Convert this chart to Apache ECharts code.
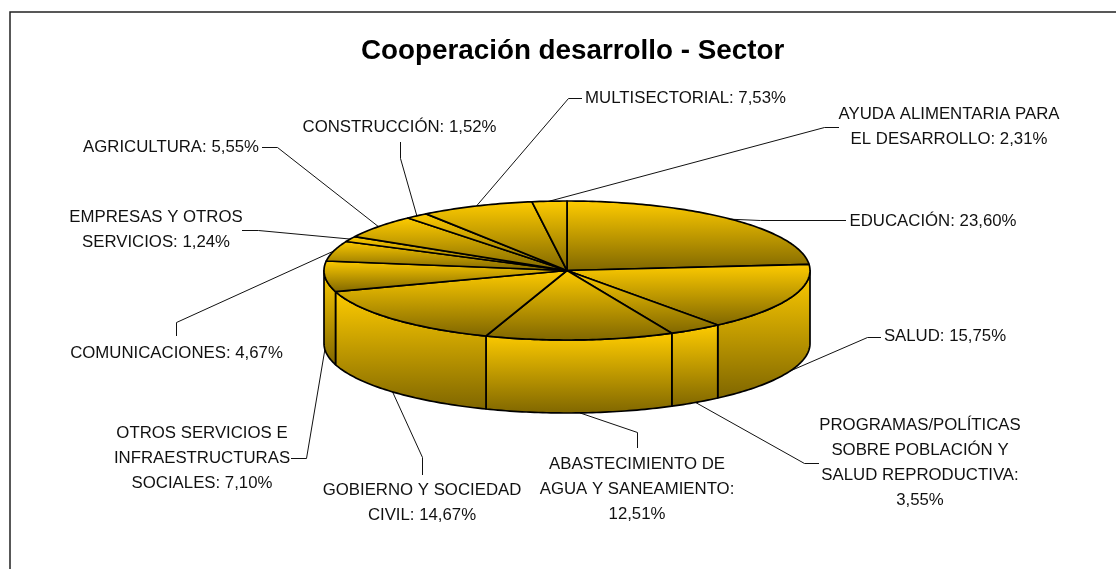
<!DOCTYPE html>
<html lang="es">
<head>
<meta charset="UTF-8" />
<title>Cooperación desarrollo - Sector</title>
<script src="https://cdn.jsdelivr.net/npm/echarts@6/dist/echarts.min.js"></script>
<style type="text/css">
html,body{margin:0;padding:0;background:#fff;}
#main{width:1116px;height:569px;}
</style>
</head>
<body>
<div id="main"></div>
<script type="text/javascript">
var chartTitle = 'Cooperación desarrollo - Sector';
var categories = [
	'EDUCACIÓN',
	'SALUD',
	'PROGRAMAS/POLÍTICAS\nSOBRE POBLACIÓN Y\nSALUD REPRODUCTIVA',
	'ABASTECIMIENTO DE\nAGUA Y SANEAMIENTO',
	'GOBIERNO Y SOCIEDAD\nCIVIL',
	'OTROS SERVICIOS E\nINFRAESTRUCTURAS\nSOCIALES',
	'COMUNICACIONES',
	'EMPRESAS Y OTROS\nSERVICIOS',
	'AGRICULTURA',
	'CONSTRUCCIÓN',
	'MULTISECTORIAL',
	'AYUDA ALIMENTARIA PARA\nEL DESARROLLO'
];
var shares = [23.60, 15.75, 3.55, 12.51, 14.67, 7.10, 4.67, 1.24, 5.55, 1.52, 7.53, 2.31];

// layout of the pie
var CX = 567, CY = 270.5, RX = 243, RY = 69.5, DEPTH = 73;
// leader line elbow + end, label centre, value on its own line or not
var labelLayout = [
	{elbow:[760.5,220.5], end:[846,220.5], at:[933,221]},
	{elbow:[867.5,337.5], end:[881,337.5], at:[945,336]},
	{elbow:[804.5,463.5], end:[819,463.5], at:[920,462.5], breakValue:true},
	{elbow:[637.5,432.5], end:[637.5,448], at:[637,489], breakValue:true},
	{elbow:[422.5,457.5], end:[422.5,475], at:[422,503]},
	{elbow:[306.5,458.5], end:[291,458.5], at:[202,458.5]},
	{elbow:[176.5,322.5], end:[176.5,336], at:[176.5,353]},
	{elbow:[258.5,230.5], end:[242,230.5], at:[156,230]},
	{elbow:[277.5,147.5], end:[262,147.5], at:[171,147]},
	{elbow:[400.5,158.5], end:[400.5,142], at:[399.5,127]},
	{elbow:[568.5,98.5], end:[582,98.5], at:[685.5,98]},
	{elbow:[824.5,127.5], end:[839,127.5], at:[949,126.5]}
];

var total = 0;
for(var i=0;i<shares.length;i++){
	total = total + shares[i];
}
// angles in degrees, clockwise from the top of the pie
var startAngle = [];
var run = 0;
for(var i=0;i<shares.length;i++){
	startAngle.push(run/total*360);
	run = run + shares[i];
}
function endAngleOf(i){
	return startAngle[i] + shares[i]/total*360;
}
function rim(deg, drop){
	var t = deg*Math.PI/180;
	return [CX + Math.sin(t)*RX, CY - Math.cos(t)*RY + (drop||0)];
}
function arc(from, to, drop){
	var pts = [];
	var n = Math.max(2, Math.ceil(Math.abs(to-from)));
	for(var k=0;k<=n;k++){
		pts.push(rim(from+(to-from)*k/n, drop));
	}
	return pts;
}
function gold(){
	return new echarts.graphic.LinearGradient(0,0,0,1,[
		{offset:0,color:'#ffcc00'},
		{offset:1,color:'#7f6600'}
	]);
}
var edge = {stroke:'#000',lineWidth:1.7,lineJoin:'round'};

function renderWall(params, api){
	var i = params.dataIndex;
	var from = Math.max(startAngle[i],90);
	var to = Math.min(endAngleOf(i),270);
	if(to <= from){
		return null;
	}
	var pts = arc(from,to,0).concat(arc(to,from,DEPTH));
	return {type:'polygon',shape:{points:pts},style:{fill:gold(),stroke:edge.stroke,lineWidth:edge.lineWidth,lineJoin:edge.lineJoin}};
}
function renderTop(params, api){
	var i = params.dataIndex;
	var pts = [[CX,CY]].concat(arc(startAngle[i],endAngleOf(i),0));
	return {type:'polygon',shape:{points:pts},style:{fill:gold(),stroke:edge.stroke,lineWidth:edge.lineWidth,lineJoin:edge.lineJoin}};
}
function labelText(i){
	var num = shares[i].toFixed(2).replace('.',',') + '%';
	return categories[i] + (labelLayout[i].breakValue ? ':\n' : ': ') + num;
}
function renderLabel(params, api){
	var i = params.dataIndex;
	var l = labelLayout[i];
	var mid = (startAngle[i]+endAngleOf(i))/2;
	var anchor = rim(mid, (mid>90 && mid<270) ? DEPTH : 0);
	return {
		type:'group',
		children:[
			{type:'polyline',shape:{points:[anchor,l.elbow,l.end]},style:{fill:null,stroke:'#111',lineWidth:1}},
			{type:'text',style:{
				text:labelText(i),x:l.at[0],y:l.at[1],align:'center',verticalAlign:'middle',
				fontFamily:'"Liberation Sans"',fontSize:16.8,lineHeight:25,fill:'#111'
			}}
		]
	};
}

var seriesData = shares.map(function(v,i){
	return {name:categories[i],value:[v]};
});
var myChart = echarts.init(document.getElementById('main'),null,{renderer:'canvas'});
myChart.setOption({
	animation:false,
	backgroundColor:'#fff',
	title:{
		text:chartTitle,
		left:361,
		top:37,
		padding:0,
		textStyle:{fontFamily:'"Liberation Sans"',fontSize:27.8,fontWeight:'bold',color:'#000'}
	},
	graphic:[
		// frame of the chart, its right and bottom sides are outside the picture
		{type:'rect',silent:true,shape:{x:10,y:12,width:1300,height:800},style:{fill:null,stroke:'#222',lineWidth:1.5}}
	],
	series:[
		{type:'custom',coordinateSystem:'none',silent:true,z:2,renderItem:renderLabel,data:seriesData},
		{type:'custom',coordinateSystem:'none',silent:true,z:3,renderItem:renderWall,data:seriesData},
		{type:'custom',coordinateSystem:'none',silent:true,z:4,renderItem:renderTop,data:seriesData}
	]
});
</script>
</body>
</html>
